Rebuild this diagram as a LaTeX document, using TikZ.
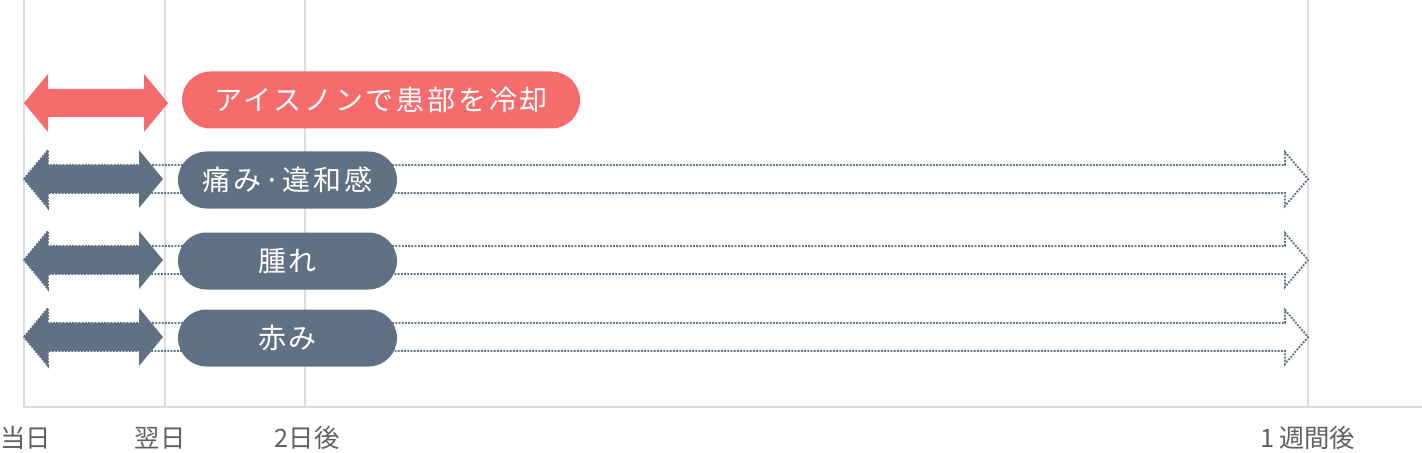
\documentclass[tikz,border=0pt]{standalone}
\usepackage{fontspec}
\newfontfamily\jpfont{Noto Sans CJK JP}
\newfontfamily\jpwide[LetterSpace=10]{Noto Sans CJK JP}
\definecolor{alert}{HTML}{F66B6B}
\definecolor{slate}{HTML}{607184}
\definecolor{grid}{HTML}{DDDDDD}
\definecolor{legend}{HTML}{606060}
\tikzset{
  pill/.style={rounded corners=21.4pt,minimum height=42.75pt,inner sep=0pt,
    text=white,font=\jpwide\fontsize{21}{21}\selectfont},
  daylabel/.style={text=legend,inner sep=0pt,font=\jpfont\fontsize{19}{19}\selectfont}
}
\begin{document}
\begin{tikzpicture}[x=0.75pt,y=-0.75pt]
\useasboundingbox (0,0) rectangle (1422,453);
% grid
\foreach \x in {165,305,1308}
  \draw[grid,line width=1.1pt] (\x,0) -- (\x,407);
\draw[grid,line width=2.2pt] (24,0) -- (24,407) -- (1422,407);
% dotted outlines
\foreach \y in {179,260,337}
  \draw[slate,densely dotted,line width=1.4pt] (24,\y) -- (48,\y-29) -- (48,\y-14)
    -- (1285,\y-14) -- (1285,\y-27) -- (1308,\y) -- (1285,\y+27) -- (1285,\y+14)
    -- (48,\y+14) -- (48,\y+29) -- cycle;
% solid double arrows
\foreach \y/\r/\c in {103/168/alert,179/163/slate,260/163/slate,337/163/slate}
  \fill[\c] (24,\y) -- (48,\y-29) -- (48,\y-14) -- (\r-24,\y-14) -- (\r-24,\y-29)
    -- (\r,\y) -- (\r-24,\y+29) -- (\r-24,\y+14) -- (48,\y+14) -- (48,\y+29) -- cycle;
% pills
\node[pill,fill=alert,minimum width=298.5pt] (cool) at (381,100) {アイスノンで患部を冷却};
\node[pill,fill=slate,minimum width=164.25pt] (pain) at (287.5,180) {痛み·違和感};
\node[pill,fill=slate,minimum width=164.25pt] (swell) at (287.5,261) {腫れ};
\node[pill,fill=slate,minimum width=164.25pt] (red) at (287.5,338) {赤み};
% days
\node[daylabel] (d0) at (26,438) {当日};
\node[daylabel] (d1) at (160,438) {翌日};
\node[daylabel] (d2) at (307,438) {2日後};
\node[daylabel] (d7) at (1308,438) {1\,週間後};
\end{tikzpicture}
\end{document}
